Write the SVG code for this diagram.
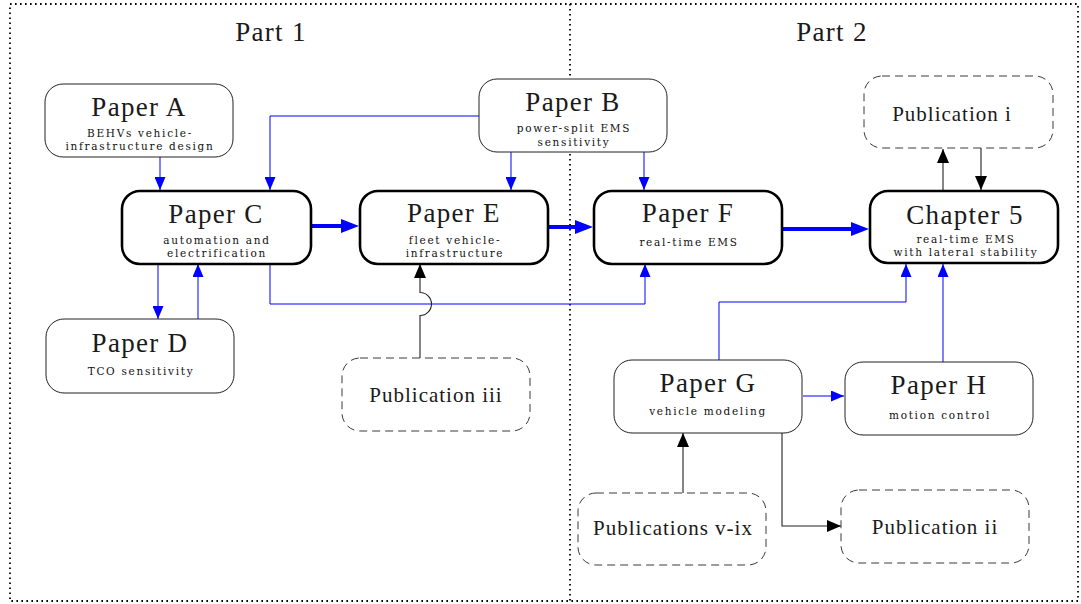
<svg xmlns="http://www.w3.org/2000/svg" width="1081" height="604" viewBox="0 0 1081 604">
<style>
.bx{fill:#fff;stroke:#222;stroke-width:1}
.bt{fill:#fff;stroke:#000;stroke-width:2.6}
.bd{fill:#fff;stroke:#3a3a3a;stroke-width:1;stroke-dasharray:8 5}
.t{font-family:"Liberation Serif",serif;font-size:27px;letter-spacing:1.3px;text-anchor:middle;fill:#1a1a1a}
.p{font-family:"Liberation Serif",serif;font-size:21px;letter-spacing:1px;text-anchor:middle;fill:#1a1a1a}
.s{font-family:"DejaVu Serif",serif;font-size:10.5px;letter-spacing:1.7px;text-anchor:middle;fill:#111}
.b{fill:none;stroke:#0000ff;stroke-width:1}
.bT{fill:none;stroke:#0000ff;stroke-width:4}
.k{fill:none;stroke:#222;stroke-width:1.1}
.dot{fill:none;stroke:#000;stroke-width:1.8;stroke-dasharray:1.6 3.4}
</style>
<defs>
<marker id="ab" markerUnits="userSpaceOnUse" markerWidth="13" markerHeight="11" viewBox="0 0 13 11" refX="13" refY="5.5" orient="auto"><path d="M0,0 L13,5.5 L0,11 z" fill="#0000ff"/></marker>
<marker id="at" markerUnits="userSpaceOnUse" markerWidth="18" markerHeight="14" viewBox="0 0 18 14" refX="2" refY="7" orient="auto"><path d="M0,0 L18,7 L0,14 z" fill="#0000ff"/></marker>
<marker id="ak" markerUnits="userSpaceOnUse" markerWidth="14" markerHeight="12" viewBox="0 0 14 12" refX="14" refY="6" orient="auto"><path d="M0,0 L14,6 L0,12 z" fill="#000"/></marker>
</defs>
<rect width="1081" height="604" fill="#fff"/>
<g id="frame">
<rect class="dot" x="10" y="4" width="1068" height="597"/>
<line class="dot" x1="570" y1="4" x2="570" y2="601"/>
<text class="t" x="271" y="41">Part 1</text>
<text class="t" x="832" y="41">Part 2</text>
</g>
<g id="connectors">
<path class="b" d="M160,157 V190" marker-end="url(#ab)"/>
<path class="b" d="M479,116 H270 V190" marker-end="url(#ab)"/>
<path class="b" d="M511,152 V190" marker-end="url(#ab)"/>
<path class="b" d="M644,152 V190" marker-end="url(#ab)"/>
<path class="b" d="M158,264 V319" marker-end="url(#ab)"/>
<path class="b" d="M198,319 V264" marker-end="url(#ab)"/>
<path class="b" d="M270,264 V304 H645 V264" marker-end="url(#ab)"/>
<path class="b" d="M719,360 V302 H906 V264" marker-end="url(#ab)"/>
<path class="b" d="M943,362 V264" marker-end="url(#ab)"/>
<path class="b" d="M803,396 H844" marker-end="url(#ab)"/>
<path class="bT" d="M312,226 H343" marker-end="url(#at)"/>
<path class="bT" d="M549,227 H577" marker-end="url(#at)"/>
<path class="bT" d="M783,229 H853" marker-end="url(#at)"/>
<path class="k" d="M420,358 V315.5 A11.5,11.5 0 0 0 420,292.5 V264" marker-end="url(#ak)"/>
<path class="k" d="M943,191 V149" marker-end="url(#ak)"/>
<path class="k" d="M981,148 V190" marker-end="url(#ak)"/>
<path class="k" d="M683,493 V433" marker-end="url(#ak)"/>
<path class="k" d="M782,433 V526 H841" marker-end="url(#ak)"/>
</g>
<g id="paperA">
<rect class="bx" x="45" y="84" width="188" height="73" rx="18"/>
<text class="t" x="139" y="116">Paper A</text>
<text class="s" x="140" y="137">BEHVs vehicle-</text>
<text class="s" x="140" y="150">infrastructure design</text>
</g>
<g id="paperB">
<rect class="bx" x="479" y="79" width="188" height="73" rx="18"/>
<text class="t" x="573" y="111">Paper B</text>
<text class="s" x="574" y="132">power-split EMS</text>
<text class="s" x="574" y="146">sensitivity</text>
</g>
<g id="paperC">
<rect class="bt" x="122" y="191" width="189" height="73" rx="18"/>
<text class="t" x="216" y="223">Paper C</text>
<text class="s" x="217" y="244">automation and</text>
<text class="s" x="217" y="257">electrification</text>
</g>
<g id="paperE">
<rect class="bt" x="360" y="191" width="188" height="73" rx="18"/>
<text class="t" x="454" y="222">Paper E</text>
<text class="s" x="455" y="244">fleet vehicle-</text>
<text class="s" x="455" y="257">infrastructure</text>
</g>
<g id="paperF">
<rect class="bt" x="594" y="191" width="188" height="73" rx="18"/>
<text class="t" x="688" y="222">Paper F</text>
<text class="s" x="689" y="246">real-time EMS</text>
</g>
<g id="chapter5">
<rect class="bt" x="870" y="191" width="188" height="72" rx="18"/>
<text class="t" x="965" y="224">Chapter 5</text>
<text class="s" x="966" y="243">real-time EMS</text>
<text class="s" x="966" y="256">with lateral stability</text>
</g>
<g id="publicationI">
<rect class="bd" x="864" y="76" width="189" height="72" rx="18"/>
<text class="p" x="952" y="121">Publication i</text>
</g>
<g id="paperD">
<rect class="bx" x="46" y="319" width="188" height="74" rx="18"/>
<text class="t" x="140" y="352">Paper D</text>
<text class="s" x="141" y="375">TCO sensitivity</text>
</g>
<g id="publicationIII">
<rect class="bd" x="342" y="358" width="188" height="73" rx="18"/>
<text class="p" x="436" y="402">Publication iii</text>
</g>
<g id="paperG">
<rect class="bx" x="614" y="360" width="188" height="73" rx="18"/>
<text class="t" x="708" y="392">Paper G</text>
<text class="s" x="708" y="415">vehicle modeling</text>
</g>
<g id="paperH">
<rect class="bx" x="845" y="362" width="188" height="73" rx="18"/>
<text class="t" x="939" y="394">Paper H</text>
<text class="s" x="940" y="419">motion control</text>
</g>
<g id="publicationsVIX">
<rect class="bd" x="578" y="493" width="188" height="72" rx="18"/>
<text class="p" x="673" y="535">Publications v-ix</text>
</g>
<g id="publicationII">
<rect class="bd" x="841" y="490" width="188" height="73" rx="18"/>
<text class="p" x="935" y="534">Publication ii</text>
</g>
</svg>
